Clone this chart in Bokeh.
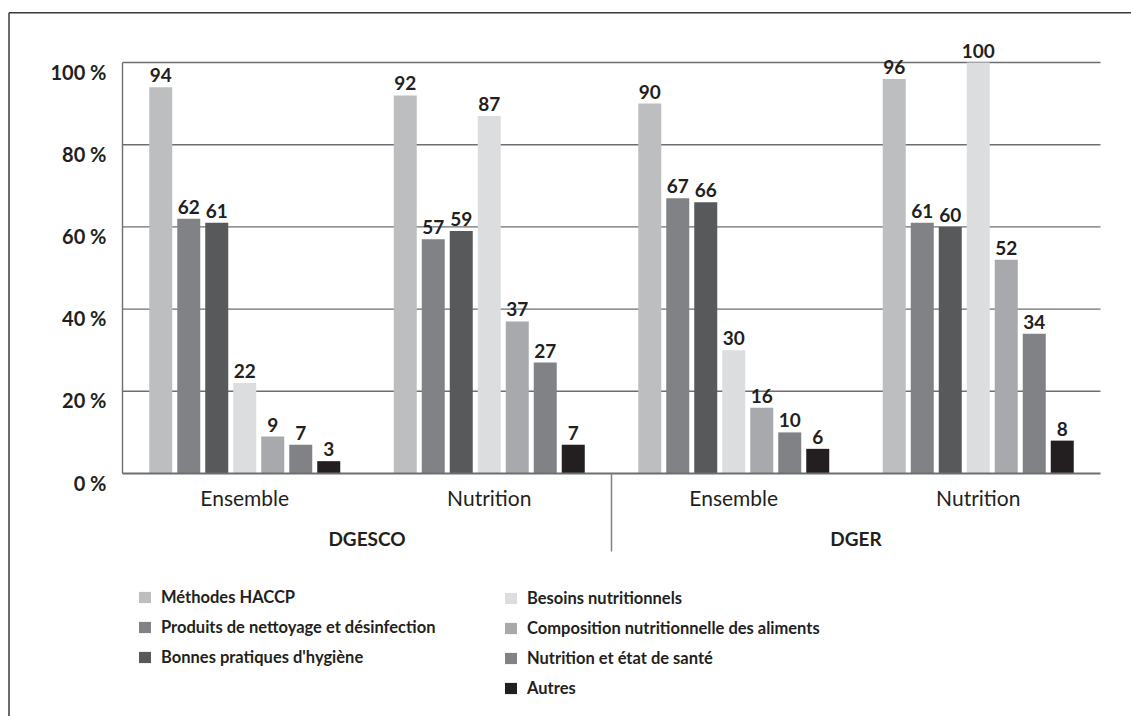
from bokeh.plotting import figure
from bokeh.models import Range1d, Legend, LegendItem, ColumnDataSource
from bokeh.core.properties import value
from bokeh.embed import file_html
from bokeh.resources import INLINE

# ---------------- data ----------------
directions = ["DGESCO", "DGER"]
subgroups = ["Ensemble", "Nutrition", "Ensemble", "Nutrition"]
series = [
    "Méthodes HACCP",
    "Produits de nettoyage et désinfection",
    "Bonnes pratiques d'hygiène",
    "Besoins nutritionnels",
    "Composition nutritionnelle des aliments",
    "Nutrition et état de santé",
    "Autres",
]
haccp = [94, 92, 90, 96]
produits = [62, 57, 67, 61]
bonnes = [61, 59, 66, 60]
besoins = [22, 87, 30, 100]
composition = [9, 37, 16, 52]
nutrition_sante = [7, 27, 10, 34]
autres = [3, 7, 6, 8]
values_by_series = [haccp, produits, bonnes, besoins, composition, nutrition_sante, autres]
y_ticks = [0, 20, 40, 60, 80, 100]
y_tick_labels = ["0 %", "20 %", "40 %", "60 %", "80 %", "100 %"]

# ---------------- style ----------------
colors = ["#bcbec0", "#808285", "#58595b", "#dcdddf", "#a7a9ac", "#808285", "#231f20"]
FONT = "Lato"
TXT = "#231f20"
GRID = "#6d6e71"

# ---------------- layout (pixels inside the figure) ----------------
W, H = 1131, 716
PL, PR, PT, PB = 122, 1100, 62, 473
NG = len(subgroups)
PX = (PR - PL) / NG
PY = (PB - PT) / 100.0
STEP = 28 / PX
BW = 23 / PX

x_range = Range1d(-PL / PX, (W - PL) / PX)
y_range = Range1d(-(H - PB) / PY, PB / PY)
p = figure(width=W, height=H, x_range=x_range, y_range=y_range,
           output_backend="svg", toolbar_location=None,
           x_axis_location=None, y_axis_location=None,
           min_border=0, outline_line_color=None,
           background_fill_color="white", border_fill_color="white")
for g in p.grid:
    g.visible = False

# outer frame (top and left edges only)
fx = (8.5 - PL) / PX
fy = (PB - 12.3) / PY
p.segment(x0=[fx, fx], y0=[fy, fy], x1=[x_range.end, fx], y1=[fy, y_range.start],
          line_color="#3a3a3c", line_width=1.5)

# gridlines
grid_y = y_ticks[1:]
p.segment(x0=[0] * len(grid_y), x1=[NG] * len(grid_y), y0=grid_y, y1=grid_y,
          line_color=GRID, line_width=1.4)
p.segment(x0=[0], x1=[0], y0=[0], y1=[y_ticks[-1]], line_color=GRID, line_width=1.4)

# bars
n = len(series)
renderers = []
for j, (name, vals) in enumerate(zip(series, values_by_series)):
    xs = [i + 0.5 + (j - (n - 1) / 2) * STEP for i in range(NG)]
    src = ColumnDataSource(dict(x=xs, top=vals, label=[str(v) for v in vals]))
    r = p.vbar(x="x", top="top", bottom=0, width=BW, source=src,
               fill_color=colors[j], line_color=None)
    renderers.append(r)
    p.text(x="x", y="top", text="label", source=src, text_align="center",
           text_baseline="bottom", y_offset=-5, text_font=value(FONT),
           text_font_size="19px", text_font_style="bold", text_color=TXT)

# baseline
p.segment(x0=[0], x1=[NG], y0=[0], y1=[0], line_color=GRID, line_width=2.2)

# y tick labels
p.text(x=[0] * len(y_ticks), y=y_ticks, text=y_tick_labels, x_offset=-16, y_offset=9,
       text_align="right", text_baseline="middle", text_font=value(FONT),
       text_font_size="20px", text_font_style="bold", text_color=TXT)

# category labels
p.text(x=[i + 0.5 for i in range(NG)], y=[0] * NG, text=subgroups, y_offset=24,
       text_align="center", text_baseline="middle", text_font=value(FONT),
       text_font_size="21px", text_color=TXT)
per_dir = NG // len(directions)
p.text(x=[k * per_dir + per_dir / 2 for k in range(len(directions))], y=[0] * len(directions),
       text=directions, y_offset=65, text_align="center", text_baseline="middle",
       text_font=value(FONT), text_font_size="19px", text_font_style="bold", text_color=TXT)
# separator between directions
for k in range(1, len(directions)):
    p.segment(x0=[k * per_dir], x1=[k * per_dir], y0=[0], y1=[-78 / PY],
              line_color="#808285", line_width=1.5)

# legends
def make_legend(items, loc):
    return Legend(items=items, location=loc, orientation="vertical",
                  glyph_width=15, glyph_height=14, label_height=14, label_standoff=9,
                  spacing=10, padding=0, margin=0, border_line_color=None,
                  background_fill_alpha=0, label_text_font=FONT,
                  label_text_font_size="16.5px", label_text_font_style="bold",
                  label_text_color=TXT)

leg1 = make_legend([LegendItem(label=series[j], renderers=[renderers[j]]) for j in range(3)],
                   (137, 49.5))
leg2 = make_legend([LegendItem(label=series[j], renderers=[renderers[j]]) for j in range(3, n)],
                   (503, 18.5))
p.add_layout(leg1)
p.add_layout(leg2)

open("out.html", "w").write(file_html(p, INLINE))
